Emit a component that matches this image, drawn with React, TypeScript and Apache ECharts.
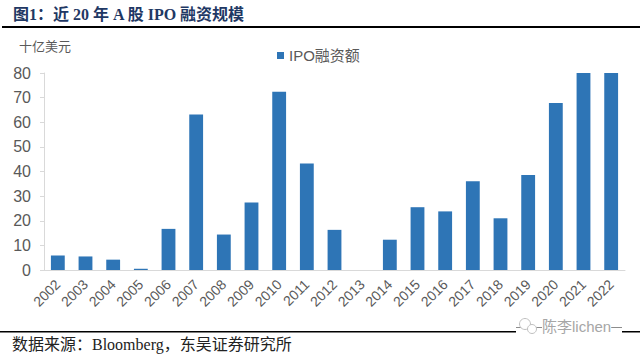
import React, { useEffect, useRef } from "react";
import * as echarts from "echarts";

const years = ["2002","2003","2004","2005","2006","2007","2008","2009","2010","2011","2012","2013","2014","2015","2016","2017","2018","2019","2020","2021","2022"];
const ipoAmount = [5.9,5.5,4.2,0.5,16.7,63.1,14.4,27.4,72.4,43.2,16.3,0,12.3,25.5,23.8,36.0,21.0,38.6,67.8,80,80];
const yTicks = { min: 0, max: 80, interval: 10 };
const titleText = "图1：近 20 年 A 股 IPO 融资规模";
const unitText = "十亿美元";
const seriesName = "IPO融资额";
const sourceText = "数据来源：Bloomberg，东吴证券研究所";
const watermarkText = "陈李lichen";

export default function App() {
  const ref = useRef<HTMLDivElement>(null);
  useEffect(() => {
    if (!ref.current) return;
    const chart = echarts.init(ref.current, null, { renderer: "svg" });
    const serif = "'Liberation Serif', 'Times New Roman', 'Noto Sans CJK SC', serif";
    const sans = "Arial, 'Liberation Sans', 'Noto Sans CJK SC', sans-serif";
    chart.setOption({
      animation: false,
      backgroundColor: "#ffffff",
      grid: { left: 44, right: 15, top: 73, bottom: 85, containLabel: false },
      legend: {
        data: [{ name: seriesName, icon: "rect" }],
        left: 272,
        top: 43,
        itemWidth: 7,
        itemHeight: 7,
        itemGap: 4,
        textStyle: { color: "#595959", fontSize: 15, fontFamily: sans },
      },
      xAxis: {
        type: "category",
        data: years,
        axisLine: { lineStyle: { color: "#d9d9d9", width: 1 } },
        axisTick: { show: false },
        axisLabel: { rotate: 45, color: "#595959", fontSize: 14, fontFamily: sans, margin: 12, interval: 0 },
      },
      yAxis: {
        type: "value",
        min: yTicks.min,
        max: yTicks.max,
        interval: yTicks.interval,
        axisLine: { show: true, lineStyle: { color: "#d9d9d9", width: 1 } },
        axisTick: { show: true, length: 4, lineStyle: { color: "#d9d9d9" } },
        splitLine: { show: false },
        axisLabel: { color: "#595959", fontSize: 16, fontFamily: sans, margin: 13 },
      },
      series: [
        {
          name: seriesName,
          type: "bar",
          data: ipoAmount,
          barWidth: "50%",
          itemStyle: { color: "#2e75b6" },
        },
      ],
      graphic: [
        {
          type: "text",
          left: 13,
          top: 6,
          style: { text: titleText, fill: "#1f3864", fontSize: 16, fontWeight: "bold", fontFamily: serif },
        },
        {
          type: "rect",
          shape: { x: 2, y: 26, width: 638, height: 2 },
          style: { fill: "#000000" },
        },
        {
          type: "text",
          left: 19,
          top: 40,
          style: { text: unitText, fill: "#595959", fontSize: 13, fontFamily: sans },
        },
        {
          type: "rect",
          shape: { x: 0, y: 331, width: 640, height: 1.5 },
          style: { fill: "#000000" },
        },
        {
          type: "rect",
          shape: { x: 516, y: 318, width: 106, height: 18 },
          style: { fill: "#ffffff" },
        },
        {
          type: "rect",
          shape: { x: 516, y: 327, width: 106, height: 1 },
          style: { fill: "#8c8c8c" },
        },
        {
          type: "circle",
          shape: { cx: 525, cy: 324, r: 5.5 },
          style: { fill: "#ffffff", stroke: "#c0c0c0", lineWidth: 1 },
        },
        {
          type: "circle",
          shape: { cx: 532, cy: 329, r: 4.5 },
          style: { fill: "#ffffff", stroke: "#c0c0c0", lineWidth: 1 },
        },
        {
          type: "text",
          left: 542,
          top: 319,
          style: { text: watermarkText, fill: "#a6a6a6", fontSize: 15, fontFamily: sans, backgroundColor: "#ffffff" },
        },
        {
          type: "text",
          left: 12,
          top: 336,
          style: { text: sourceText, fill: "#222222", fontSize: 16, fontFamily: serif },
        },
      ],
    });
    return () => chart.dispose();
  }, []);
  return <div ref={ref} style={{ position: "fixed", left: 0, top: 0, width: 640, height: 355 }} />;
}
